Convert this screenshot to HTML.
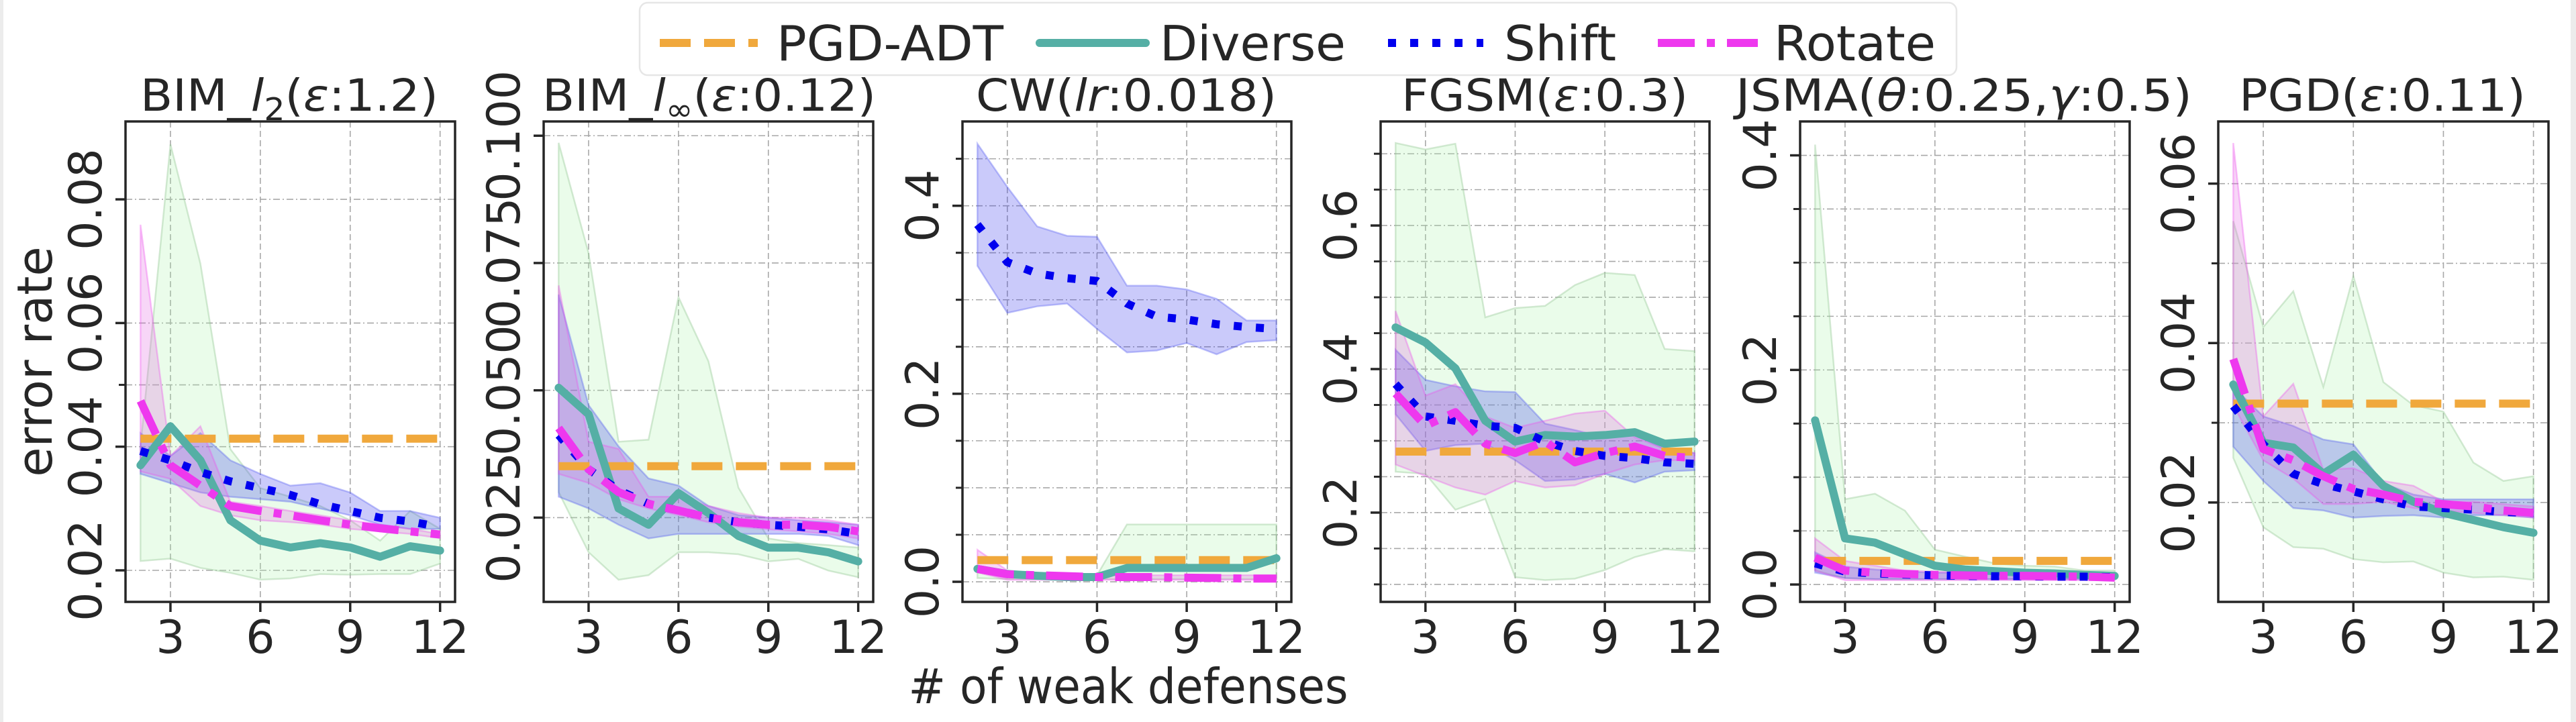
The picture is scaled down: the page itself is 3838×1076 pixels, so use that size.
<!DOCTYPE html>
<html><head><meta charset="utf-8"><style>
html,body{margin:0;padding:0;background:#fff;}
svg{display:block;font-family:"DejaVu Sans","Liberation Sans",sans-serif;}
</style></head><body>
<svg id="fig" width="3838" height="1076" viewBox="0 0 3838 1076" xmlns="http://www.w3.org/2000/svg">
<rect x="0" y="0" width="3838" height="1076" fill="#ececec"/>
<rect x="5" y="0" width="3825" height="1076" fill="#ffffff"/>
</svg>
<script>
const xs = [2,3,4,5,6,7,8,9,10,11,12];
const panelTitles = ["BIM_l2","BIM_linf","CW","FGSM","JSMA","PGD"];
const diverse = [
 [0.037,0.0433,0.0378,0.0281,0.0248,0.0237,0.0244,0.0237,0.0222,0.0239,0.0232],
 [0.0505,0.0453,0.0268,0.0236,0.0298,0.0259,0.0214,0.0191,0.0191,0.0182,0.0164],
 [0.0137,0.0083,0.0064,0.005,0.005,0.0147,0.0147,0.0147,0.0147,0.0147,0.025],
 [0.458,0.437,0.401,0.328,0.299,0.308,0.306,0.308,0.312,0.296,0.299],
 [0.153,0.043,0.039,0.028,0.0175,0.014,0.0124,0.011,0.0103,0.009,0.008],
 [0.0348,0.0275,0.0269,0.0236,0.026,0.0221,0.0201,0.0187,0.0178,0.0169,0.0162]];
const shift = [
 [0.0393,0.0378,0.0359,0.0344,0.0333,0.0322,0.0307,0.0296,0.0285,0.0279,0.027],
 [0.0412,0.0345,0.0304,0.0277,0.0264,0.025,0.0241,0.0236,0.0232,0.0227,0.0218],
 [0.38,0.34,0.328,0.323,0.32,0.296,0.282,0.279,0.274,0.271,0.269],
 [0.379,0.334,0.328,0.321,0.318,0.299,0.286,0.279,0.276,0.27,0.268],
 [0.0197,0.012,0.0103,0.0094,0.0085,0.008,0.0077,0.0077,0.0073,0.0073,0.0068],
 [0.0321,0.0273,0.0236,0.0223,0.0214,0.0204,0.0195,0.0193,0.0191,0.0188,0.0187]];
const rotate = [
 [0.0474,0.037,0.0337,0.0304,0.0296,0.0289,0.0281,0.0274,0.0268,0.0263,0.0258],
 [0.0426,0.0345,0.03,0.0277,0.0264,0.025,0.0241,0.0236,0.0236,0.0232,0.0223],
 [0.0137,0.008,0.007,0.006,0.005,0.005,0.005,0.0044,0.004,0.0034,0.0034],
 [0.366,0.321,0.340,0.296,0.283,0.299,0.27,0.283,0.292,0.279,0.276],
 [0.025,0.013,0.011,0.0098,0.009,0.0085,0.0081,0.0081,0.0077,0.0073,0.0064],
 [0.038,0.0267,0.0253,0.0233,0.0217,0.021,0.0201,0.0198,0.0195,0.019,0.0187]];
const pgdAdt = [0.0413,0.0351,0.023,0.285,0.022,0.0324];
const diverseHi = [
 [0.040,0.0889,0.0696,0.0396,0.0333,0.0319,0.0304,0.0281,0.0248,0.0296,0.0267],
 [0.0986,0.0769,0.0399,0.0403,0.0683,0.0557,0.0309,0.0209,0.02,0.0196,0.0191],
 [0.017,0.007,0.007,0.007,0.007,0.061,0.061,0.061,0.061,0.061,0.061],
 [0.715,0.706,0.714,0.472,0.485,0.488,0.517,0.534,0.531,0.428,0.425],
 [0.41,0.0795,0.0846,0.0688,0.0325,0.026,0.0197,0.0175,0.0167,0.013,0.013],
 [0.0553,0.042,0.0465,0.0345,0.0484,0.0351,0.0322,0.0314,0.025,0.0227,0.0233]];
const diverseLo = [
 [0.0215,0.0219,0.0204,0.0196,0.0185,0.0187,0.0194,0.0193,0.0194,0.0194,0.0211],
 [0.03,0.0182,0.0128,0.0137,0.0182,0.0182,0.0178,0.0164,0.0169,0.0146,0.0133],
 [0.004,0.003,0.003,0.003,0.003,0.003,0.003,0.003,0.003,0.003,0.003],
 [0.257,0.254,0.204,0.219,0.110,0.106,0.108,0.12,0.138,0.149,0.146],
 [0.013,0.006,0.005,0.005,0.005,0.005,0.005,0.005,0.005,0.005,0.005],
 [0.0256,0.0169,0.0144,0.0142,0.0129,0.0125,0.0126,0.0112,0.0106,0.0107,0.0103]];
const shiftHi = [
 [0.0422,0.0385,0.0422,0.0378,0.0356,0.0337,0.0341,0.0326,0.0296,0.0296,0.0285],
 [0.0688,0.0471,0.039,0.0327,0.0313,0.0273,0.0255,0.025,0.0245,0.0241,0.0236],
 [0.466,0.42,0.378,0.368,0.367,0.315,0.315,0.311,0.301,0.278,0.278],
 [0.427,0.385,0.376,0.369,0.368,0.324,0.315,0.305,0.308,0.289,0.283],
 [0.030,0.0167,0.014,0.012,0.011,0.011,0.010,0.010,0.010,0.010,0.010],
 [0.0345,0.0308,0.0296,0.0279,0.0273,0.0224,0.021,0.0204,0.0204,0.0204,0.0204]];
const shiftLo = [
 [0.0356,0.0341,0.0326,0.0319,0.0315,0.0311,0.03,0.0289,0.0274,0.0267,0.0267],
 [0.0291,0.0268,0.0236,0.0209,0.0218,0.0218,0.0218,0.0218,0.0218,0.0214,0.0196],
 [0.336,0.286,0.293,0.296,0.269,0.244,0.246,0.254,0.242,0.255,0.257],
 [0.337,0.286,0.294,0.296,0.273,0.244,0.246,0.254,0.242,0.257,0.259],
 [0.011,0.006,0.005,0.005,0.005,0.005,0.005,0.005,0.005,0.005,0.005],
 [0.027,0.0227,0.0193,0.019,0.0181,0.0183,0.0184,0.0181,0.0184,0.0184,0.0181]];
const rotateHi = [
 [0.0759,0.0385,0.0433,0.0311,0.0304,0.0296,0.0289,0.0281,0.0274,0.0267,0.0259],
 [0.0706,0.0399,0.0385,0.0291,0.0291,0.0273,0.0259,0.025,0.025,0.0245,0.0236],
 [0.034,0.012,0.007,0.007,0.007,0.007,0.007,0.007,0.007,0.007,0.007],
 [0.481,0.363,0.379,0.334,0.318,0.328,0.338,0.342,0.305,0.289,0.283],
 [0.043,0.022,0.0175,0.013,0.012,0.011,0.011,0.010,0.010,0.010,0.010],
 [0.0651,0.0308,0.0349,0.0241,0.0243,0.0227,0.0221,0.0201,0.0201,0.0198,0.0195]];
const rotateLo = [
 [0.036,0.0348,0.0304,0.0289,0.0281,0.0278,0.0274,0.0267,0.0263,0.0259,0.0252],
 [0.0336,0.0318,0.0286,0.0268,0.0255,0.0241,0.0232,0.0227,0.0223,0.0218,0.0209],
 [0.01,0.002,0.002,0.002,0.002,0.002,0.002,0.002,0.002,0.002,0.002],
 [0.267,0.251,0.235,0.225,0.244,0.235,0.238,0.254,0.267,0.273,0.273],
 [0.013,0.004,0.004,0.004,0.004,0.004,0.004,0.004,0.004,0.004,0.004],
 [0.0322,0.0253,0.023,0.0198,0.0198,0.0201,0.0193,0.019,0.0187,0.0184,0.0181]];
const yMajor = [[0.02,0.04,0.06,0.08],[0.025,0.05,0.075,0.1],[0.0,0.2,0.4],[0.2,0.4,0.6],[0.0,0.2,0.4],[0.02,0.04,0.06]];
const yTickLabels = [["0.02","0.04","0.06","0.08"],["0.025","0.050","0.075","0.100"],["0.0","0.2","0.4"],["0.2","0.4","0.6"],["0.0","0.2","0.4"],["0.02","0.04","0.06"]];
const yMinor = [[0.05],[],[0.05,0.1,0.15,0.25,0.3,0.35,0.45],[0.1,0.15,0.25,0.3,0.35,0.45,0.5,0.55,0.65,0.7],[0.05,0.1,0.15,0.25,0.3,0.35],[0.03,0.05]];
const yDomain = [[0.0149,0.0926],[0.00845,0.1028],[-0.0214,0.4897],[0.0756,0.745],[-0.0162,0.4316],[0.00753,0.0678]];
const xTicks = [3,6,9,12];
const xTickLabels = ["3","6","9","12"];

const NS="http://www.w3.org/2000/svg";
const svg=document.getElementById('fig');
function mk(tag,attrs,parent){const e=document.createElementNS(NS,tag);for(const k in attrs)e.setAttribute(k,attrs[k]);(parent||svg).appendChild(e);return e;}
const boxes=[[187,678],[810,1301],[1434,1924],[2057,2547],[2682,3173],[3305,3797]];
const titleSpan=[[209,653],[808,1305],[1454,1902],[2088,2515],[2586,3266],[3336,3763]];
const TOP=181, BOT=897;
const titleParts=[
 [["BIM_",""],["l","i"],["2","sub"],["(",""],["ε","i"],[":1.2)",""]],
 [["BIM_",""],["l","i"],["∞","sub"],["(",""],["ε","i"],[":0.12)",""]],
 [["CW(",""],["lr","i"],[":0.018)",""]],
 [["FGSM(",""],["ε","i"],[":0.3)",""]],
 [["JSMA(",""],["θ","i"],[":0.25,",""],["γ","i"],[":0.5)",""]],
 [["PGD(",""],["ε","i"],[":0.11)",""]]];
const colors={adt:"#f0a83c",div:"#55afa5",shift:"#0000ee",rot:"#ee38ee"};

boxes.forEach((b,p)=>{
  const [L,R]=b;
  const xScale=v=>L+(v-1.5)/(11)*(R-L);
  const [d0,d1]=yDomain[p];
  const yScale=v=>BOT-(v-d0)/(d1-d0)*(BOT-TOP);
  const g=mk('g',{});
  
  
  const clipId='c'+p;
  const cp=mk('clipPath',{id:clipId},g);mk('rect',{x:L,y:TOP,width:R-L,height:BOT-TOP},cp);
  xTicks.forEach(t=>{const l=mk('line',{x1:xScale(t),x2:xScale(t),y1:TOP,y2:BOT,stroke:'#a8a8a8','stroke-width':1.6,'stroke-dasharray':'9 5'},g);
    });
  yMajor[p].concat(yMinor[p]).forEach(t=>{const l=mk('line',{x1:L,x2:R,y1:yScale(t),y2:yScale(t),stroke:'#a8a8a8','stroke-width':1.6,'stroke-dasharray':'10 4 2 4'},g);
    });
  const pg=mk('g',{'clip-path':'url(#'+clipId+')'},g);
  function band(hi,lo,fill,stroke,name){
    let d='M'+xs.map((x,i)=>xScale(x)+','+yScale(hi[i])).join('L');
    d+='L'+xs.slice().reverse().map((x,j)=>{const i=xs.length-1-j;return xScale(x)+','+yScale(lo[i]);}).join('L')+'Z';
    const e=mk('path',{d:d,fill:fill,stroke:stroke,'stroke-width':2.5},pg);
    }
  band(diverseHi[p],diverseLo[p],'rgba(170,245,170,0.25)','rgba(150,200,150,0.4)','diverse-band');
  band(shiftHi[p],shiftLo[p],'rgba(60,60,235,0.27)','rgba(80,90,240,0.35)','shift-band');
  band(rotateHi[p],rotateLo[p],'rgba(225,90,225,0.25)','rgba(238,80,238,0.35)','rotate-band');
  const ya=yScale(pgdAdt[p]);
  const adt=mk('line',{x1:xScale(2),x2:xScale(12),y1:ya,y2:ya,stroke:colors.adt,'stroke-width':12,'stroke-dasharray':'46 20'},pg);
  
  function line(vals,col,dash,cap,name){
    const e=mk('polyline',{points:xs.map((x,i)=>xScale(x)+','+yScale(vals[i])).join(' '),fill:'none',stroke:col,'stroke-width':12,'stroke-linejoin':'round','stroke-linecap':cap},pg);
    if(dash)e.setAttribute('stroke-dasharray',dash);
    }
  line(diverse[p],colors.div,null,'round','diverse-line');
  line(shift[p],colors.shift,'12 21','butt','shift-line');
  line(rotate[p],colors.rot,'55 18 12 18','butt','rotate-line');
  const fr=mk('rect',{x:L,y:TOP,width:R-L,height:BOT-TOP,fill:'none',stroke:'#262626','stroke-width':3.5},g);
  
  xTicks.forEach((t,i)=>{const x=xScale(t);
    mk('line',{x1:x,x2:x,y1:BOT,y2:BOT+15,stroke:'#262626','stroke-width':3.5},g);
    const tx=mk('text',{x:x,y:973,'font-size':68,'text-anchor':'middle',fill:'#262626'},g);tx.textContent=xTickLabels[i];
    });
  yMajor[p].forEach((t,i)=>{const y=yScale(t);
    mk('line',{x1:L-15,x2:L,y1:y,y2:y,stroke:'#262626','stroke-width':3.5},g);
    const tx=mk('text',{x:0,y:0,'font-size':68,'text-anchor':'middle',fill:'#262626',transform:'translate('+(L-36)+','+y+') rotate(-90)'},g);
    tx.textContent=yTickLabels[p][i];
    });
  yMinor[p].forEach(t=>{const y=yScale(t);mk('line',{x1:L-10,x2:L,y1:y,y2:y,stroke:'#262626','stroke-width':3},g);});
  const [t0,t1]=titleSpan[p];
  const tt=mk('text',{x:t0,y:165,'font-size':66,'text-anchor':'start',fill:'#262626',textLength:t1-t0,lengthAdjust:'spacingAndGlyphs'},g);
  
  let prevSub=false;
  titleParts[p].forEach(([s,st])=>{const ts=mk('tspan',{},tt);ts.textContent=s;
    if(st==='i')ts.setAttribute('font-style','italic');
    if(st==='sub'){ts.setAttribute('font-size','46');ts.setAttribute('dy','14');}
    else if(prevSub){ts.setAttribute('dy','-14');}
    prevSub=(st==='sub');});
});
const yl=mk('text',{x:0,y:0,'font-size':72,'text-anchor':'middle',fill:'#262626',transform:'translate(77,539) rotate(-90)'});
yl.textContent='error rate';


const xl=mk('text',{x:1681,y:1048,'font-size':72,'text-anchor':'middle',fill:'#262626',textLength:655,lengthAdjust:'spacingAndGlyphs'});
xl.textContent='# of weak defenses';


const lg=mk('g',{});


mk('rect',{x:953,y:4,width:1962,height:108,rx:12,fill:'rgba(255,255,255,0.85)',stroke:'#e6e6e6','stroke-width':2.5},lg);
const legItems=[["PGD-ADT",983,1129,1157,338,colors.adt,'46 20','butt'],["Diverse",1549,1707,1728,277,colors.div,null,'round'],["Shift",2068,2210,2241,167,colors.shift,'12 21','butt'],["Rotate",2470,2619,2643,241,colors.rot,'55 18 12 18','butt']];
legItems.forEach(([name,x1,x2,tx,tw,col,dash,cap])=>{
  const le=mk('g',{},lg);
  
  
  const l=mk('line',{x1:x1,x2:x2,y1:64,y2:64,stroke:col,'stroke-width':12,'stroke-linecap':cap},le);
  if(dash)l.setAttribute('stroke-dasharray',dash);
  const t=mk('text',{x:tx,y:90,'font-size':72,fill:'#262626',textLength:tw,lengthAdjust:'spacingAndGlyphs'},le);t.textContent=name;
});
</script>
</body></html>
